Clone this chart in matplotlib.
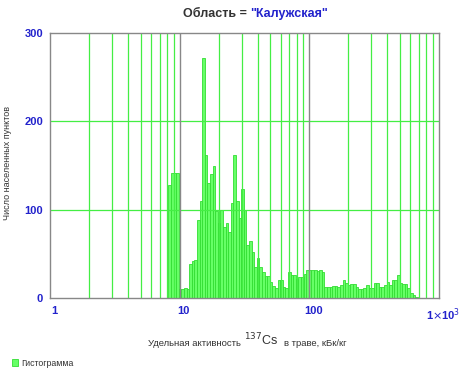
import numpy as np
import matplotlib
matplotlib.use("Agg")
import matplotlib.pyplot as plt
import matplotlib.transforms as mtransforms
from matplotlib.ticker import FixedLocator, NullFormatter

plt.rcParams['font.family'] = ['Liberation Sans', 'DejaVu Sans']

# данные гистограммы (логарифмические интервалы, кБк/кг)
bin_lo = 8.2
bin_hi = 687.0
counts = [128, 142, 142, 142, 10, 10, 11, 10, 38, 42, 43, 88, 110, 272, 162, 130,
          140, 149, 98, 85, 100, 80, 85, 75, 108, 162, 110, 91, 123, 100, 60, 65,
          52, 35, 45, 35, 30, 25, 25, 18, 14, 11, 20, 20, 12, 11, 30, 26,
          26, 21, 24, 24, 27, 32, 32, 32, 32, 31, 32, 30, 12, 13, 12, 14,
          14, 13, 15, 20, 17, 15, 16, 16, 12, 10, 10, 11, 15, 11, 11, 17,
          17, 13, 13, 15, 18, 15, 20, 20, 26, 17, 16, 16, 11, 6, 3, 1]

x_ticks = [1, 10, 100, 1000]
x_ticklabels = ["1", "10", "100", r"1$\times$10$^{3}$"]
y_ticks = [0, 100, 200, 300]
y_ticklabels = ["0", "100", "200", "300"]

edges = np.logspace(np.log10(bin_lo), np.log10(bin_hi), len(counts) + 1)

fig = plt.figure(figsize=(4.66, 3.76), dpi=100)
ax = fig.add_axes([50 / 466, 1 - 298 / 376, 389 / 466, 265 / 376])

ax.bar(edges[:-1], counts, width=np.diff(edges), align="edge",
       facecolor="#66ff66", edgecolor="#33dd33", linewidth=0.6,
       label="Гистограмма", zorder=1)

ax.set_xscale("log")
ax.set_xlim(1, 1000)
ax.set_ylim(0, 300)

# сетка: зелёные линии внутри декад, серые на декадах
minor = [m * d for d in (1, 10, 100) for m in range(2, 10)]
for v in minor:
    ax.axvline(v, color="#44ee44", lw=0.9, zorder=2)
for v in (10, 100):
    ax.axvline(v, color="#888888", lw=1.0, zorder=3)
for v in (100, 200):
    ax.axhline(v, color="#44ee44", lw=0.9, zorder=2)

for s in ax.spines.values():
    s.set_color("#888888")
    s.set_linewidth(1.0)
    s.set_zorder(4)

ax.xaxis.set_major_locator(FixedLocator(x_ticks))
ax.xaxis.set_minor_locator(FixedLocator(minor))
ax.xaxis.set_minor_formatter(NullFormatter())
ax.set_xticklabels(x_ticklabels)
ax.set_yticks(y_ticks)
ax.set_yticklabels(y_ticklabels)
ax.tick_params(axis="both", which="both", length=0, colors="#2222cc",
               labelsize=8)
ax.tick_params(axis="x", pad=6)
ax.tick_params(axis="y", pad=5)
for lab in ax.get_xticklabels() + ax.get_yticklabels():
    lab.set_fontweight("bold")
shift = mtransforms.ScaledTranslation(4 / 100, 0, fig.dpi_scale_trans)
for lab in ax.get_xticklabels():
    lab.set_transform(lab.get_transform() + shift)

# заголовок
fig.text(250 / 466, 1 - 14 / 376, "Область = ", ha="right", va="center",
         fontsize=9, fontweight="bold", color="#333333")
fig.text(250 / 466, 1 - 14 / 376, "\"Калужская\"", ha="left", va="center",
         fontsize=9, fontweight="bold", color="#2222cc")

# подписи осей
fig.text(8 / 466, 1 - 163 / 376, "Число населенных пунктов", rotation=90,
         ha="center", va="center", fontsize=6.5, color="#333333")
fig.text(241 / 466, 1 - 343 / 376, "Удельная активность", ha="right",
         va="center", fontsize=6.8, color="#333333")
fig.text(244 / 466, 1 - 340 / 376, r"$^{137}$Cs", ha="left", va="center",
         fontsize=9, color="#333333")
fig.text(284 / 466, 1 - 343 / 376, "в траве, кБк/кг", ha="left",
         va="center", fontsize=6.8, color="#333333")

fig.legend(loc="center left", bbox_to_anchor=(4 / 466, 1 - 363 / 376),
           frameon=False, fontsize=6.3, handlelength=0.7, handleheight=0.7,
           handletextpad=0.4, labelcolor="#333333")

fig.savefig("out.png", dpi=100)
